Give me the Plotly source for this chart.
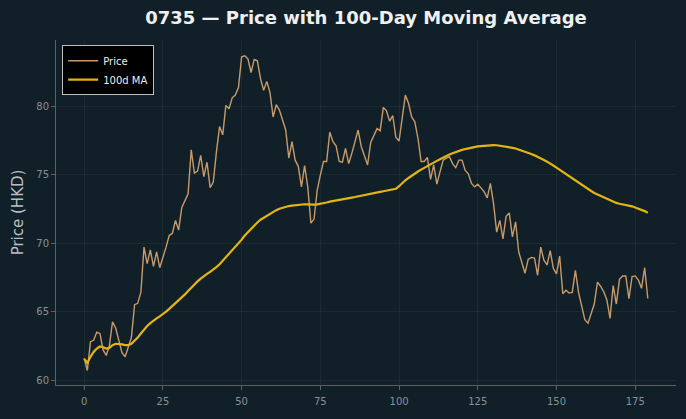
import plotly.graph_objects as go

days = list(range(180))

price = [
    61.6, 60.7, 62.8, 62.9, 63.5, 63.4, 62.2, 61.8, 62.5, 64.25,
    63.8, 62.9, 62.0, 61.7, 62.4, 63.1, 65.5, 65.6, 66.4, 69.7,
    68.5, 69.5, 68.3, 69.35, 68.2, 68.9, 69.7, 70.55, 70.7, 71.65,
    70.95, 72.6, 73.1, 73.6, 76.8, 75.1, 75.25, 76.4, 74.85, 75.9,
    74.05, 74.45, 76.65, 78.5, 77.9, 80.05, 79.8, 80.6, 80.8, 81.35,
    83.6, 83.67, 83.45, 82.45, 83.4, 83.3, 82.0, 81.15, 81.8, 81.0,
    79.2, 80.1, 79.7, 79.0, 78.25, 76.2, 77.4, 76.05, 75.6, 74.1,
    75.65, 74.1, 71.45, 71.75, 73.85, 74.95, 75.95, 75.95, 78.1, 77.4,
    77.1, 75.95, 75.9, 76.9, 75.8, 76.55, 77.4, 78.25, 77.05, 76.4,
    75.7, 77.35, 77.9, 78.35, 78.2, 79.9, 79.65, 78.9, 79.3, 77.7,
    77.45, 79.2, 80.8, 80.2, 79.2, 78.85, 77.65, 75.95, 75.95, 76.25,
    74.65, 75.7, 74.3, 75.2, 76.05, 76.2, 76.3, 75.8, 75.5, 76.05,
    76.05, 75.3, 75.05, 74.35, 74.1, 74.3, 74.0, 73.75, 73.3, 74.35,
    72.9, 70.8, 71.65, 70.3, 71.95, 72.2, 70.45, 71.55, 69.35, 68.5,
    67.8, 68.8, 68.95, 68.9, 67.65, 69.7, 68.75, 68.4, 69.45, 68.15,
    67.75, 69.05, 66.3, 66.55, 66.35, 66.4, 68.0, 66.4, 65.4, 64.4,
    64.15, 64.85, 65.55, 67.15, 66.85, 66.45, 65.85, 64.5, 66.9, 65.55,
    67.35, 67.6, 67.6, 65.95, 67.55, 67.6, 67.3, 66.7, 68.2, 65.95,
]

ma100 = [
    61.55, 61.25, 61.7, 62.05, 62.3, 62.45, 62.4, 62.3, 62.35, 62.55,
    62.65, 62.65, 62.6, 62.55, 62.55, 62.65, 62.85, 63.1, 63.4, 63.7,
    63.95, 64.15, 64.35, 64.5, 64.65, 64.8, 65.0, 65.2, 65.4, 65.6,
    65.8, 66.0, 66.25, 66.5, 66.75, 67.0, 67.2, 67.4, 67.6, 67.75,
    67.9, 68.05, 68.25, 68.45, 68.7, 68.95, 69.2, 69.45, 69.7, 69.95,
    70.25, 70.55, 70.8, 71.05, 71.3, 71.5, 71.7, 71.85, 72.0, 72.15,
    72.3, 72.4, 72.5, 72.58, 72.65, 72.7, 72.73, 72.76, 72.8, 72.82,
    72.83, 72.83, 72.8, 72.8, 72.82, 72.85, 72.9, 72.96, 73.02, 73.07,
    73.1, 73.14, 73.18, 73.22, 73.27, 73.32, 73.36, 73.4, 73.44, 73.48,
    73.52, 73.57, 73.62, 73.68, 73.73, 73.78, 73.82, 73.86, 73.9, 73.96,
    74.15, 74.4, 74.58, 74.75, 74.92, 75.08, 75.22, 75.36, 75.5, 75.62,
    75.75, 75.88, 76.0, 76.12, 76.25, 76.36, 76.46, 76.56, 76.65, 76.73,
    76.8, 76.86, 76.92, 76.97, 77.01, 77.05, 77.08, 77.11, 77.13, 77.15,
    77.15, 77.14, 77.11, 77.07, 77.03, 76.99, 76.95, 76.9, 76.83, 76.75,
    76.67, 76.59, 76.5, 76.4, 76.3, 76.18, 76.06, 75.94, 75.82, 75.66,
    75.5, 75.34, 75.18, 75.02, 74.86, 74.72, 74.58, 74.42, 74.26, 74.1,
    73.95, 73.8, 73.66, 73.55, 73.44, 73.32, 73.2, 73.1, 73.0, 72.93,
    72.87, 72.83, 72.79, 72.74, 72.68, 72.6, 72.52, 72.43, 72.33, 72.22,
]

x_ticks = [0, 25, 50, 75, 100, 125, 150, 175]
y_ticks = [60, 65, 70, 75, 80]

BG = "#112028"
FONT = "DejaVu Sans"

fig = go.Figure()
fig.add_trace(go.Scatter(x=days, y=price, mode="lines", name="Price",
                         line=dict(color="#c89a6a", width=1.4)))
fig.add_trace(go.Scatter(x=days, y=ma100, mode="lines", name="100d MA",
                         line=dict(color="#e3b511", width=2.2)))

axis_common = dict(
    showgrid=True, gridcolor="rgba(255,255,255,0.045)", gridwidth=1,
    zeroline=False, showline=True, linecolor="#5a6266", linewidth=1,
    ticks="outside", ticklen=4, tickcolor="#5a6266",
    tickfont=dict(family=FONT, size=10, color="#8a9094"),
)

fig.update_layout(
    width=686, height=419,
    paper_bgcolor=BG, plot_bgcolor=BG,
    margin=dict(l=56, r=10, t=40, b=34),
    font=dict(family=FONT, color="#dddddd"),
    title=dict(text="<b>0735 — Price with 100-Day Moving Average</b>",
               x=0.5, xref="paper", xanchor="center", y=0.957, yref="container",
               yanchor="middle", font=dict(family=FONT, size=18, color="#f0f0f0")),
    xaxis=dict(range=[-8.95, 187.95], tickvals=x_ticks, ticklabelstandoff=3,
               **axis_common),
    yaxis=dict(range=[59.64, 84.82], tickvals=y_ticks,
               title=dict(text="Price (HKD)", font=dict(family=FONT, size=15, color="#b9bec1"), standoff=9),
               **axis_common),
    legend=dict(x=0.01, y=0.985, xanchor="left", yanchor="top",
                bgcolor="#000000", bordercolor="#bfbfbf", borderwidth=1,
                font=dict(family=FONT, size=10, color="#eeeeee"),
                itemwidth=30, tracegroupgap=0),
    showlegend=True,
)

fig.write_html("out.html")
